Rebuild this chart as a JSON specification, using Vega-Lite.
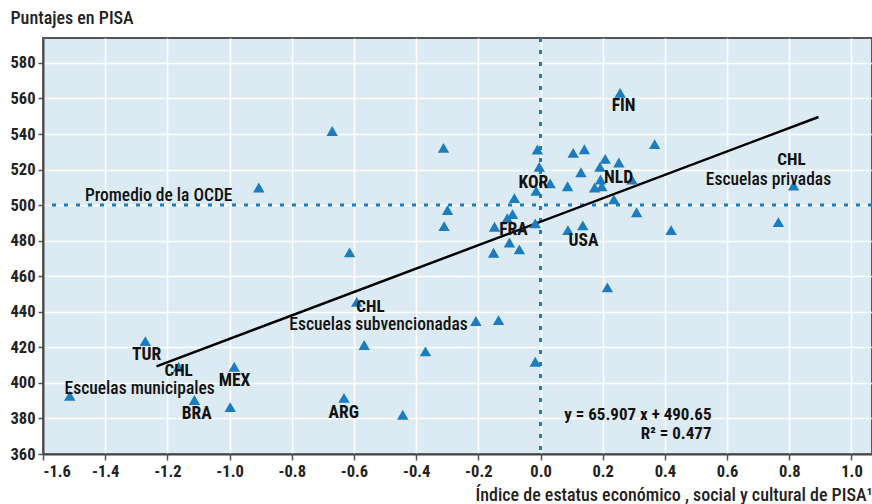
{
  "$schema": "https://vega.github.io/schema/vega-lite/v6.json",
  "width": 829,
  "height": 416,
  "autosize": {"type": "none"},
  "padding": {"left": 43, "top": 38, "right": 0, "bottom": 50},
  "datasets": {
    "points": [
      {"x": -1.514, "y": 392.8}, {"x": -1.271, "y": 423.5}, {"x": -1.164, "y": 409.1}, {"x": -1.113, "y": 390.4},
      {"x": -0.998, "y": 386.4}, {"x": -0.985, "y": 409.1}, {"x": -0.906, "y": 509.9}, {"x": -0.670, "y": 541.7},
      {"x": -0.632, "y": 391.6}, {"x": -0.614, "y": 473.4}, {"x": -0.591, "y": 445.6}, {"x": -0.567, "y": 421.3},
      {"x": -0.443, "y": 382.1}, {"x": -0.370, "y": 417.7}, {"x": -0.312, "y": 532.2}, {"x": -0.299, "y": 497.2},
      {"x": -0.310, "y": 488.2}, {"x": -0.208, "y": 434.8}, {"x": -0.151, "y": 473.2}, {"x": -0.148, "y": 487.8},
      {"x": -0.135, "y": 435.3}, {"x": -0.107, "y": 492.7}, {"x": -0.100, "y": 479.0}, {"x": -0.090, "y": 494.9},
      {"x": -0.084, "y": 503.9}, {"x": -0.068, "y": 475.1}, {"x": -0.017, "y": 489.7}, {"x": -0.017, "y": 411.9},
      {"x": -0.010, "y": 531.3}, {"x": -0.004, "y": 521.5}, {"x": -0.014, "y": 508.0}, {"x": 0.031, "y": 512.2},
      {"x": 0.087, "y": 510.6}, {"x": 0.088, "y": 485.9}, {"x": 0.105, "y": 529.4}, {"x": 0.130, "y": 518.5},
      {"x": 0.136, "y": 488.6}, {"x": 0.141, "y": 531.4}, {"x": 0.174, "y": 509.9}, {"x": 0.191, "y": 521.5},
      {"x": 0.193, "y": 514.4}, {"x": 0.197, "y": 510.6}, {"x": 0.208, "y": 526.0}, {"x": 0.215, "y": 453.7},
      {"x": 0.236, "y": 503.2}, {"x": 0.252, "y": 524.0}, {"x": 0.256, "y": 563.1}, {"x": 0.294, "y": 514.4},
      {"x": 0.309, "y": 496.0}, {"x": 0.367, "y": 534.3}, {"x": 0.420, "y": 485.9}, {"x": 0.765, "y": 490.4},
      {"x": 0.814, "y": 511.0}
    ],
    "fit": [{"x": -1.235, "y": 409.25}, {"x": 0.894, "y": 549.57}],
    "codes": [
      {"x": 0.267, "y": 555.6, "label": "FIN"},
      {"x": -0.023, "y": 512.3, "label": "KOR"},
      {"x": 0.251, "y": 515.1, "label": "NLD"},
      {"x": -0.087, "y": 485.9, "label": "FRA"},
      {"x": 0.138, "y": 479.7, "label": "USA"},
      {"x": -1.267, "y": 415.6, "label": "TUR"},
      {"x": -0.984, "y": 401.0, "label": "MEX"},
      {"x": -1.106, "y": 382.5, "label": "BRA"},
      {"x": -0.633, "y": 383.0, "label": "ARG"}
    ],
    "chl": [
      {"x": 0.807, "y": 525.3, "label": "CHL"},
      {"x": -0.547, "y": 442.8, "label": "CHL"},
      {"x": -1.164, "y": 406.8, "label": "CHL"}
    ],
    "notes": [
      {"x": 0.733, "y": 514.4, "label": "Escuelas privadas"},
      {"x": -1.228, "y": 505.0, "label": "Promedio  de la OCDE"},
      {"x": -0.521, "y": 432.4, "label": "Escuelas subvencionadas"},
      {"x": -1.289, "y": 396.4, "label": "Escuelas municipales"}
    ],
    "eq": [
      {"x": 0.55, "y": 381.8, "label": "y = 65.907 x + 490.65"},
      {"x": 0.55, "y": 371.4, "label": "R² = 0.477"}
    ]
  },
  "encoding": {
    "x": {
      "field": "x", "type": "quantitative",
      "scale": {"domain": [-1.6, 1.066], "nice": false, "zero": false},
      "axis": {
        "values": [-1.6, -1.4, -1.2, -1.0, -0.8, -0.6, -0.4, -0.2, 0, 0.2, 0.4, 0.6, 0.8, 1.0],
        "format": ".1f",
        "labelExpr": "replace(datum.label, '\u2212', '-')",
        "title": "Índice de estatus económico , social y cultural de PISA¹",
        "titleAnchor": "end",
        "titlePadding": 7,
        "tickSize": 6,
        "labelPadding": 3
      }
    },
    "y": {
      "field": "y", "type": "quantitative",
      "scale": {"domain": [360, 594], "nice": false, "zero": false},
      "axis": {
        "values": [360, 380, 400, 420, 440, 460, 480, 500, 520, 540, 560, 580],
        "title": "Puntajes en PISA",
        "titleAngle": 0,
        "titleAlign": "left",
        "titleBaseline": "middle",
        "titleX": -33,
        "titleY": -20,
        "tickSize": 5,
        "labelPadding": 3
      }
    }
  },
  "layer": [
    {
      "data": {"values": [{"v": 500}]},
      "mark": {"type": "rule", "color": "#1B7CC0", "strokeWidth": 3, "strokeDash": [4, 8]},
      "encoding": {"y": {"field": "v", "type": "quantitative"}, "x": null}
    },
    {
      "data": {"values": [{"v": 0}]},
      "mark": {"type": "rule", "color": "#1B7CC0", "strokeWidth": 3, "strokeDash": [4, 8]},
      "encoding": {"x": {"field": "v", "type": "quantitative"}, "y": null}
    },
    {
      "data": {"name": "fit"},
      "mark": {"type": "line", "color": "#000000", "strokeWidth": 2.5}
    },
    {
      "data": {"name": "points"},
      "mark": {"type": "point", "shape": "triangle-up", "filled": true, "size": 130, "color": "#1B7CC0", "opacity": 1}
    },
    {
      "data": {"name": "codes"},
      "mark": {"type": "text", "font": "'Roboto Condensed', Roboto, sans-serif", "fontSize": 17.5, "fontWeight": "bold", "color": "#111111", "baseline": "middle"},
      "encoding": {"text": {"field": "label"}}
    },
    {
      "data": {"name": "chl"},
      "mark": {"type": "text", "font": "'Roboto Condensed', Roboto, sans-serif", "fontSize": 17, "fontWeight": "bold", "color": "#111111", "baseline": "middle"},
      "encoding": {"text": {"field": "label"}}
    },
    {
      "data": {"name": "notes"},
      "mark": {"type": "text", "font": "'Roboto Condensed', Roboto, sans-serif", "fontSize": 17.5, "fontWeight": 500, "color": "#111111", "baseline": "middle"},
      "encoding": {"text": {"field": "label"}}
    },
    {
      "data": {"name": "eq"},
      "mark": {"type": "text", "font": "'Roboto Condensed', Roboto, sans-serif", "fontSize": 17, "fontWeight": "bold", "color": "#111111", "baseline": "middle", "align": "right"},
      "encoding": {"text": {"field": "label"}}
    }
  ],
  "config": {
    "background": "#ffffff",
    "view": {"fill": "#DCEBF3", "stroke": "#555555", "strokeWidth": 2},
    "axis": {
      "grid": true,
      "gridColor": "#ffffff",
      "gridWidth": 1.5,
      "gridOpacity": 1,
      "domainColor": "#444444",
      "domainWidth": 2,
      "tickColor": "#555555",
      "tickWidth": 1.5,
      "labelFont": "'Roboto Condensed', Roboto, sans-serif",
      "labelFontSize": 16.5,
      "labelFontWeight": "bold",
      "labelColor": "#222222",
      "titleFont": "'Roboto Condensed', Roboto, sans-serif",
      "titleFontSize": 18,
      "titleFontWeight": 500,
      "titleColor": "#222222"
    }
  }
}
